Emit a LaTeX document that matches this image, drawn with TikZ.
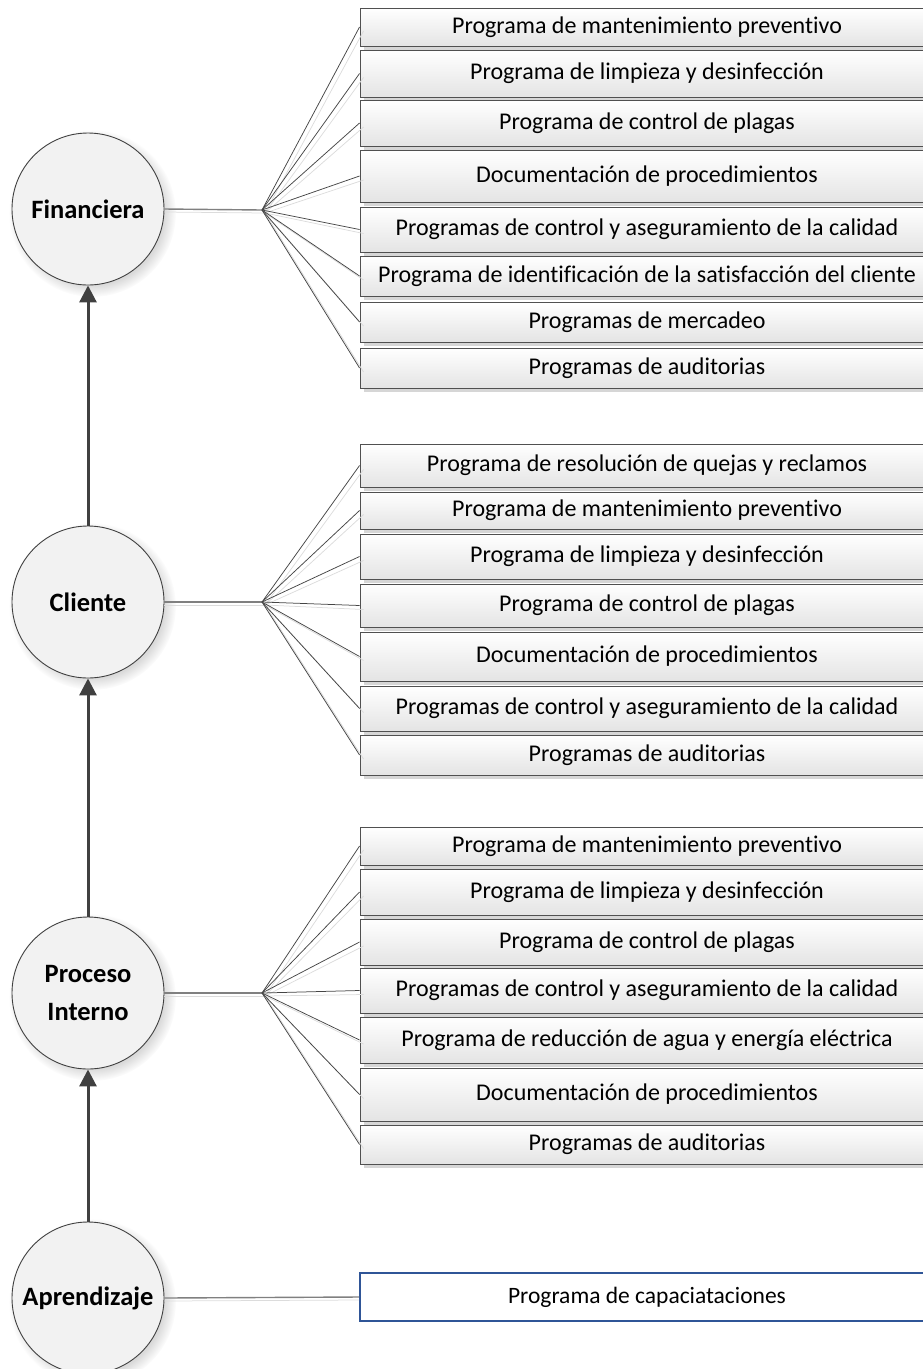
\documentclass[tikz,border=0pt]{standalone}
\usepackage{fontspec}
\setmainfont{Carlito}[Ligatures={NoCommon,NoContextual}]
\usetikzlibrary{arrows.meta,shadows}

\definecolor{circline}{HTML}{404040}
\definecolor{circfill}{HTML}{F2F2F2}
\definecolor{circshadow}{HTML}{DADADA}
\definecolor{boxline}{HTML}{505050}
\definecolor{boxbottom}{HTML}{E4E4E4}
\definecolor{boxshadow}{HTML}{D6D6D6}
\definecolor{fanline}{HTML}{454545}
\definecolor{lineshadow}{HTML}{DCDCDC}
\definecolor{stemline}{HTML}{808080}
\definecolor{arrowgray}{HTML}{404040}
\definecolor{bluebox}{HTML}{2F5597}

\tikzset{
  persp/.style={circle, draw=circline, line width=0.9pt, fill=circfill,
    minimum size=152, inner sep=0pt, align=center,
    font=\fontsize{26.5}{38}\selectfont\bfseries,
    circular drop shadow={shadow xshift=4pt, shadow yshift=-4pt,
      fill=circshadow, opacity=1}},
  progbox/.style={rectangle, draw=boxline, line width=0.9pt,
    top color=white, bottom color=boxbottom,
    minimum width=574, inner sep=0pt,
    font=\fontsize{24}{28}\selectfont,
    drop shadow={shadow xshift=4pt, shadow yshift=-4pt,
      fill=boxshadow, opacity=1}},
  bluebox/.style={rectangle, draw=bluebox, line width=2pt, fill=white,
    minimum width=574, inner sep=0pt,
    font=\fontsize{23.5}{28}\selectfont},
  fan/.style={draw=fanline, line width=0.75pt},
  fanshadow/.style={draw=lineshadow, line width=0.75pt},
  stem/.style={draw=stemline, line width=1.4pt},
  upward/.style={draw=arrowgray, line width=3pt,
    -{Triangle[length=17pt,width=17pt]}},
}

% box: name, top edge, bottom edge, label
\newcommand\progitem[4]{%
  \node[progbox, minimum height={#3-#2}] (#1) at (647,{(#2+#3)/2}) {#4};}

\begin{document}
\begin{tikzpicture}[x=1pt,y=-1pt]
\useasboundingbox (0,0) rectangle (923,1369);
\clip (0,0) rectangle (923,1369);

% perspectives
\node[persp] (fin) at (88,209) {Financiera};
\node[persp] (cli) at (88,602) {Cliente};
\node[persp] (pro) at (88,993) {Proceso\\Interno};
\node[persp] (apr) at (88,1298) {Aprendizaje};

% links between perspectives
\draw[upward] (cli.north) -- (fin.south);
\draw[upward] (pro.north) -- (cli.south);
\draw[upward] (apr.north) -- (pro.south);

% programmes of the financial perspective
\progitem{f1}{8}{46}{Programa de mantenimiento preventivo}
\progitem{f2}{50}{97}{Programa de limpieza y desinfección}
\progitem{f3}{100}{146}{Programa de control de plagas}
\progitem{f4}{150}{202}{Documentación de procedimientos}
\progitem{f5}{207}{252}{Programas de control y aseguramiento de la calidad}
\progitem{f6}{256}{296}{Programa de identificación de la satisfacción del cliente}
\progitem{f7}{302}{342}{Programas de mercadeo}
\progitem{f8}{348}{388}{Programas de auditorias}

% programmes of the customer perspective
\progitem{c1}{444}{487}{Programa de resolución de quejas y reclamos}
\progitem{c2}{492}{529}{Programa de mantenimiento preventivo}
\progitem{c3}{534}{579}{Programa de limpieza y desinfección}
\progitem{c4}{584}{627}{Programa de control de plagas}
\progitem{c5}{632}{681}{Documentación de procedimientos}
\progitem{c6}{686}{731}{Programas de control y aseguramiento de la calidad}
\progitem{c7}{735}{775}{Programas de auditorias}

% programmes of the internal process perspective
\progitem{p1}{827}{865}{Programa de mantenimiento preventivo}
\progitem{p2}{869}{915}{Programa de limpieza y desinfección}
\progitem{p3}{919}{965}{Programa de control de plagas}
\progitem{p4}{968}{1013}{Programas de control y aseguramiento de la calidad}
\progitem{p5}{1017}{1063}{Programa de reducción de agua y energía eléctrica}
\progitem{p6}{1068}{1121}{Documentación de procedimientos}
\progitem{p7}{1125}{1164}{Programas de auditorias}

% learning programme
\node[bluebox, minimum height=48] (a1) at (647,1297) {Programa de capaciataciones};

% fan points
\coordinate (finfan) at (262,210);
\coordinate (clifan) at (262,602);
\coordinate (profan) at (262,993);

% stems from the circles
\draw[fanshadow] ([shift={(0,3)}]fin.east) -- ([shift={(3,3)}]finfan);
\draw[fanshadow] ([shift={(0,3)}]cli.east) -- ([shift={(3,3)}]clifan);
\draw[fanshadow] ([shift={(0,3)}]pro.east) -- ([shift={(3,3)}]profan);
\draw[fanshadow] ([shift={(0,3)}]apr.east) -- ([shift={(0,3)}]a1.west);
\draw[stem] (fin.east) -- (finfan);
\draw[stem] (cli.east) -- (clifan);
\draw[stem] (pro.east) -- (profan);
\draw[stem] (apr.east) -- (a1.west);

% fan connectors to the programmes
\foreach \b in {f1,f2,f3,f4,f5,f6,f7,f8}
  \draw[fanshadow] ([shift={(3,3)}]finfan) -- ([shift={(4,4)}]\b.west);
\foreach \b in {c1,c2,c3,c4,c5,c6,c7}
  \draw[fanshadow] ([shift={(3,3)}]clifan) -- ([shift={(4,4)}]\b.west);
\foreach \b in {p1,p2,p3,p4,p5,p6,p7}
  \draw[fanshadow] ([shift={(3,3)}]profan) -- ([shift={(4,4)}]\b.west);
\foreach \b in {f1,f2,f3,f4,f5,f6,f7,f8}
  \draw[fan] (finfan) -- (\b.west);
\foreach \b in {c1,c2,c3,c4,c5,c6,c7}
  \draw[fan] (clifan) -- (\b.west);
\foreach \b in {p1,p2,p3,p4,p5,p6,p7}
  \draw[fan] (profan) -- (\b.west);
\end{tikzpicture}
\end{document}
